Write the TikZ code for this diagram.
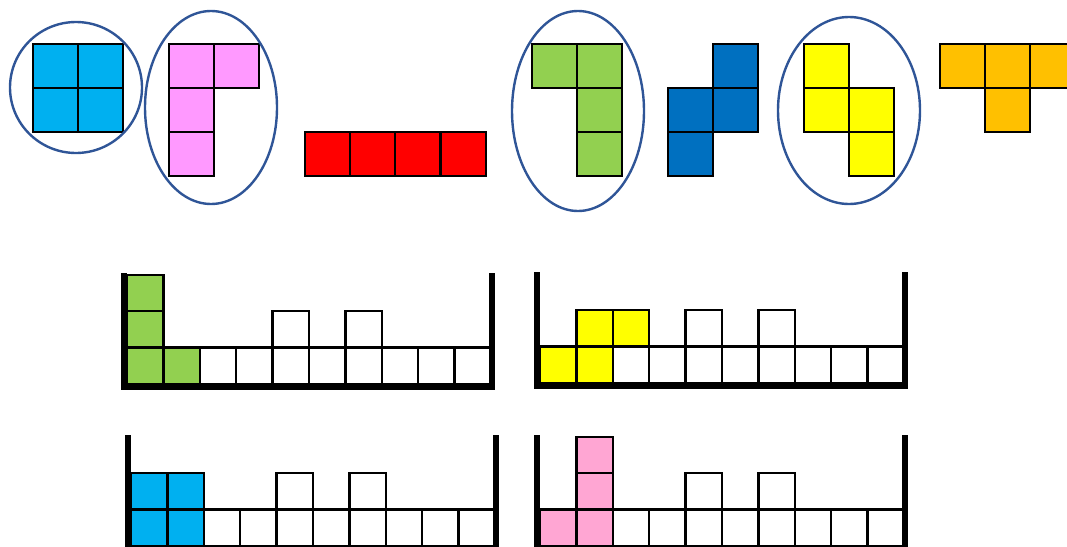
\documentclass[tikz,border=0pt]{standalone}
\usepackage{xcolor}
\usepackage{tikz}
\definecolor{oblue}{HTML}{00B0F0}
\definecolor{jpink}{HTML}{FF99FF}
\definecolor{ired}{HTML}{FF0000}
\definecolor{lgreen}{HTML}{92D050}
\definecolor{sblue}{HTML}{0070C0}
\definecolor{zyellow}{HTML}{FFFF00}
\definecolor{torange}{HTML}{FFC000}
\definecolor{wpink}{HTML}{FFA6D3}
\definecolor{ringblue}{HTML}{2F5597}
\tikzset{
  cell/.style={draw=black,line width=2.2pt},
  wcell/.style={draw=black,line width=1.7pt},
  ring/.style={draw=ringblue,line width=1.8pt},
  wall/.style={draw=black,line width=3.8pt,line join=miter}
}
% one piece square (top row), one well square (bottom)
\newcommand{\sq}[3]{\filldraw[cell,fill=#1] (#2,#3) rectangle ++(45,44);}
\newcommand{\wsq}[3]{\filldraw[wcell,fill=#1] (#2*36.4,-#3*36.4) rectangle ++(36.4,-36.4);}
\newcommand{\wellbase}{%
  \foreach \i in {0,...,9} {\wsq{white}{\i}{0}}
  \wsq{white}{4}{1}
  \wsq{white}{6}{1}
  \draw[wall] (-3,-111) -- (-3,3.5) -- (365,3.5) -- (365,-111);
}

\begin{document}
\begin{tikzpicture}[x=0.75pt,y=-0.75pt]
  \useasboundingbox (0,0) rectangle (1067,546);
  \clip (0,0) rectangle (1067,546);

  % pieces
  \foreach \x/\y in {33/44,78/44,33/88,78/88} {\sq{oblue}{\x}{\y}}
  \foreach \x/\y in {169/44,214/44,169/88,169/132} {\sq{jpink}{\x}{\y}}
  \foreach \x/\y in {305/132,350/132,395/132,441/132} {\sq{ired}{\x}{\y}}
  \foreach \x/\y in {532/44,577/44,577/88,577/132} {\sq{lgreen}{\x}{\y}}
  \foreach \x/\y in {713/44,668/88,713/88,668/132} {\sq{sblue}{\x}{\y}}
  \foreach \x/\y in {804/44,804/88,849/88,849/132} {\sq{zyellow}{\x}{\y}}
  \foreach \x/\y in {940/44,985/44,1030/44,985/88} {\sq{torange}{\x}{\y}}

  % rings
  \draw[ring] (76,87.5) ellipse (66 and 65.5);
  \draw[ring] (211,107.5) ellipse (66 and 96.5);
  \draw[ring] (578,111) ellipse (66 and 100);
  \draw[ring] (849,110.5) ellipse (71 and 93.5);

  % wells
  \begin{scope}[shift={(127,384)}]
    \wellbase
    \wsq{lgreen}{0}{0}
    \wsq{lgreen}{1}{0}
    \wsq{lgreen}{0}{1}
    \wsq{lgreen}{0}{2}
  \end{scope}

  \begin{scope}[shift={(540,383)}]
    \wellbase
    \wsq{zyellow}{0}{0}
    \wsq{zyellow}{1}{0}
    \wsq{zyellow}{1}{1}
    \wsq{zyellow}{2}{1}
  \end{scope}

  \begin{scope}[shift={(131,546)}]
    \wellbase
    \wsq{oblue}{0}{0}
    \wsq{oblue}{1}{0}
    \wsq{oblue}{0}{1}
    \wsq{oblue}{1}{1}
  \end{scope}

  \begin{scope}[shift={(540,546)}]
    \wellbase
    \wsq{wpink}{0}{0}
    \wsq{wpink}{1}{0}
    \wsq{wpink}{1}{1}
    \wsq{wpink}{1}{2}
  \end{scope}
\end{tikzpicture}
\end{document}
